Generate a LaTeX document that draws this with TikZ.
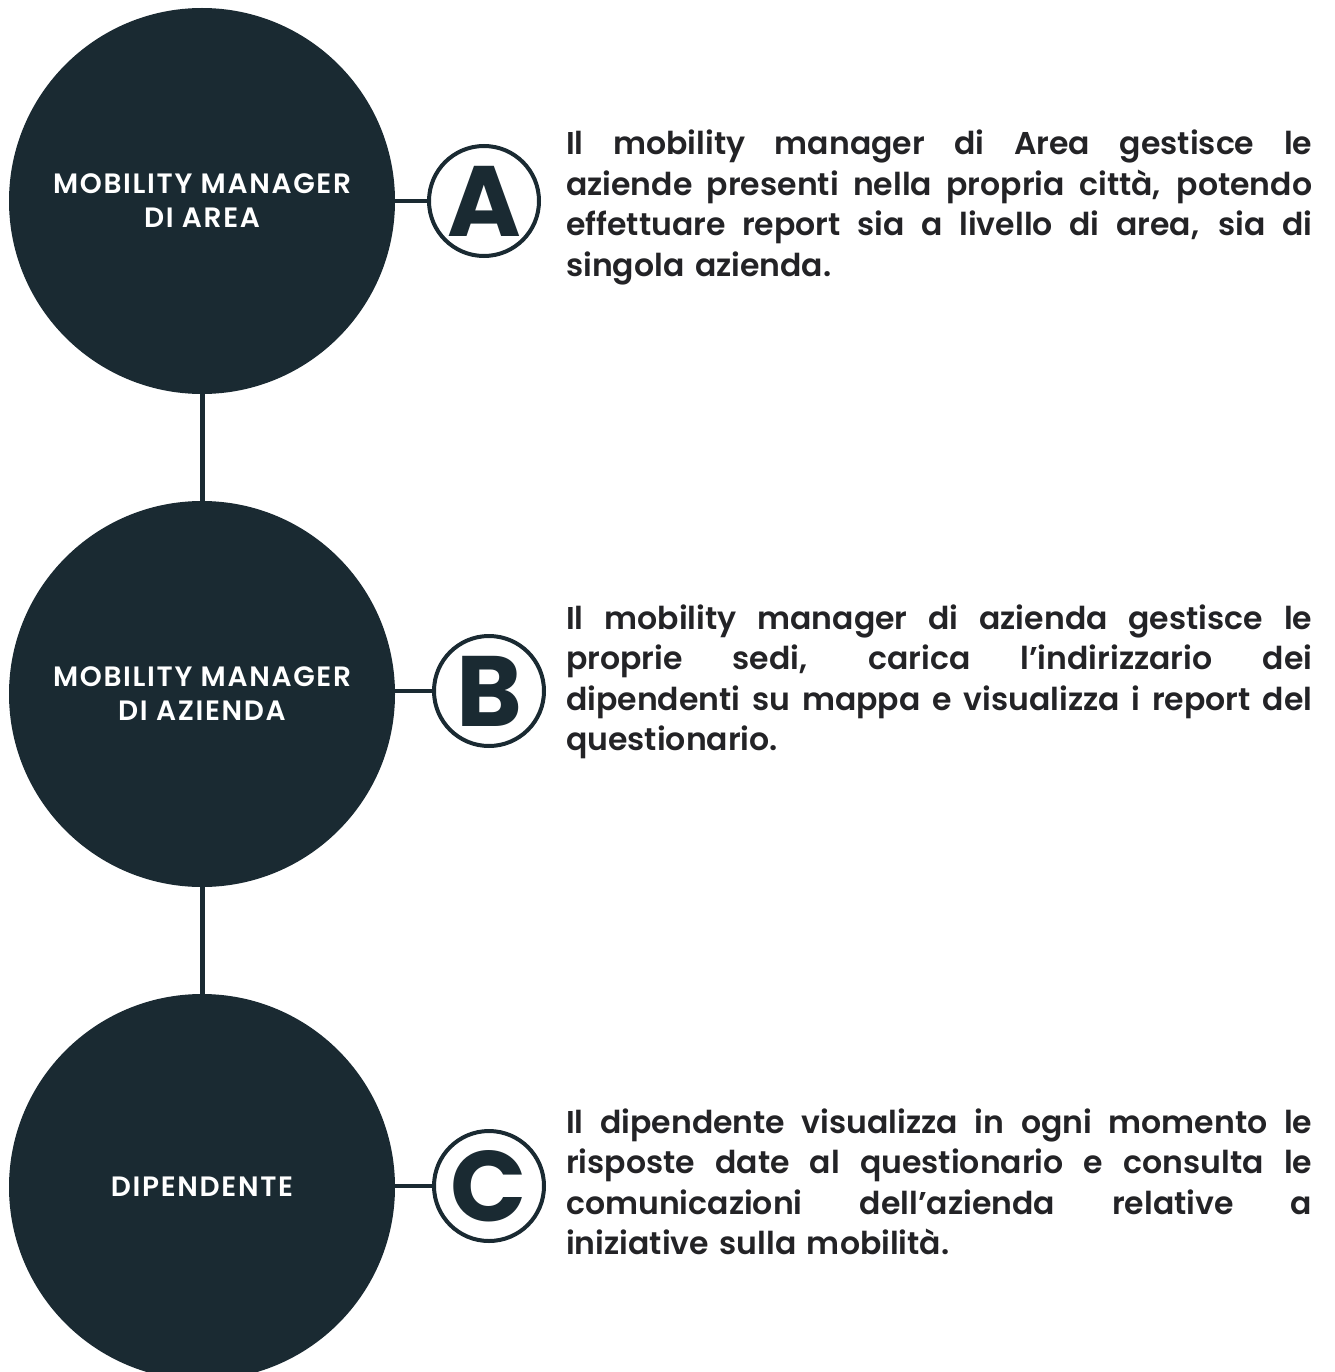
\documentclass[tikz,border=0pt]{standalone}
\usepackage{fontspec}
\setmainfont{Poppins}[UprightFont={* SemiBold},BoldFont={* Bold}]
\newfontfamily\labelfont{Poppins SemiBold}[LetterSpace=6]
\newfontfamily\letterfont{Poppins Bold}
\definecolor{navy}{RGB}{26,42,50}
\definecolor{ink}{RGB}{35,35,38}
% one justified line of the description column: word gaps share the slack
\newcommand\jline[1]{\hbox to 746pt{\spaceskip=.24em plus 1fil minus .08em\relax #1}}
\newcommand\lastline[1]{\hbox{#1}}
\begin{document}
\begin{tikzpicture}[x=1pt,y=-1pt,
  role/.style={circle,fill=navy,minimum size=386pt,inner sep=0pt,text=white,
    align=center,font=\labelfont\fontsize{28}{34}\selectfont},
  badge/.style={circle,draw=navy,line width=4pt,fill=white,minimum size=110pt,
    inner sep=0pt,text=navy,font=\letterfont\fontsize{100}{100}\selectfont},
  link/.style={draw=navy,line width=4pt},
  spine/.style={draw=navy,line width=5pt},
  desc/.style={anchor=base west,text width=746pt,inner sep=0pt,
    text=ink,font=\fontsize{31.5}{40.5}\selectfont}]
\useasboundingbox (0,0) rectangle (1334,1372);
\clip (0,0) rectangle (1334,1372);

% role circles
\node[role] (m1) at (202,201) {MOBILITY MANAGER\\DI AREA};
\node[role] (m2) at (202,694) {MOBILITY MANAGER\\DI AZIENDA};
\node[role] (m3) at (202,1187) {DIPENDENTE};

% vertical spine between roles
\draw[spine] (m1.south) -- (m2.north);
\draw[spine] (m2.south) -- (m3.north);

% letter badges
\node[badge] (a) at (484,201) {A};
\node[badge] (b) at (489,691) {B};
\node[badge] (c) at (489,1186) {C};

\draw[link] (m1.east |- a.west) -- (a.west);
\draw[link] (m2.east |- b.west) -- (b.west);
\draw[link] (m3.east |- c.west) -- (c.west);

% descriptions
\node[desc] (ta) at (566,155) {%
\jline{Il mobility manager di Area gestisce le}
\jline{aziende presenti nella propria città, potendo}
\jline{effettuare report sia a livello di area, sia di}
\lastline{singola azienda.}};
\node[desc] (tb) at (566,629) {%
\jline{Il mobility manager di azienda gestisce le}
\jline{proprie sedi, carica l’indirizzario dei}
\jline{dipendenti su mappa e visualizza i report del}
\lastline{questionario.}};
\node[desc] (tc) at (566,1133) {%
\jline{Il dipendente visualizza in ogni momento le}
\jline{risposte date al questionario e consulta le}
\jline{comunicazioni dell’azienda relative a}
\lastline{iniziative sulla mobilità.}};
\end{tikzpicture}
\end{document}
